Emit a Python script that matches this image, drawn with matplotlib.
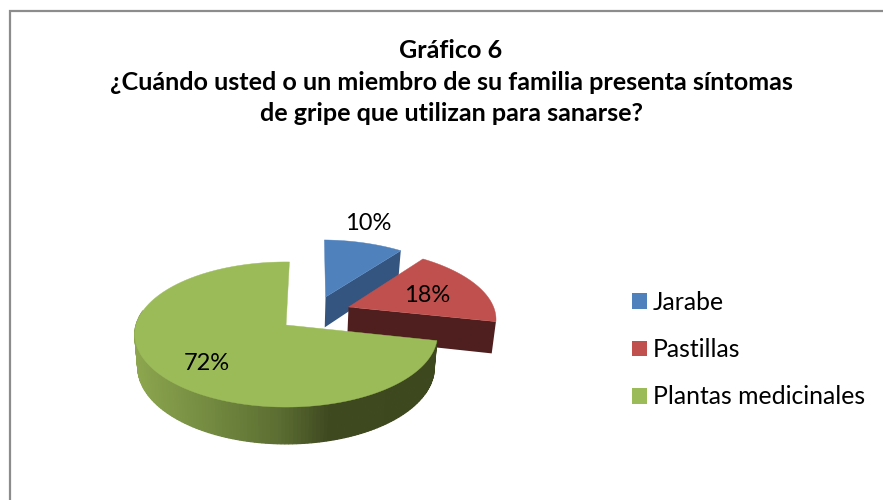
import matplotlib.pyplot as plt
import numpy as np
from matplotlib.patches import Patch

title = "Gráfico 6\n¿Cuándo usted o un miembro de su familia presenta síntomas\nde gripe que utilizan para sanarse?"
categories = ["Jarabe", "Pastillas", "Plantas medicinales"]
values = [10, 18, 72]
top_colors = ["#4F81BD", "#C0504D", "#9BBB59"]
wall_colors = ["#34557F", "#4F1E1E", "#3F4A1E"]

plt.rcParams["font.family"] = ["Lato", "DejaVu Sans"]

# fake perspective, everything in pixels of the 883x500 picture
CX, CY = 285, 325
RX, RY = 150, 71.3
K = 0.131
HEIGHT = 32
START = 1.5  # first slice angle, degrees clockwise from 12 o'clock
explode = [(0.285, 0.414), (0.438, 0.261), (0.007, 0.0)]
label_pos = [(368, 223), (427, 296), (207, 363)]


def project(u, v, bottom=False):
    s = 1 / (1 + K * v)
    x = CX + RX * u * s
    y = CY - RY * v * s
    if bottom:
        x = CX + (x - CX) * 0.98
        y = y + HEIGHT * s
    return x, y


def green_wall_color(x):
    xs = [136, 200, 280, 330, 440]
    r = np.interp(x, xs, [140, 118, 92, 63, 62])
    g = np.interp(x, xs, [165, 142, 110, 73, 72])
    b = np.interp(x, xs, [78, 66, 50, 32, 30])
    return (r / 255, g / 255, b / 255)


fig = plt.figure(figsize=(8.83, 5), dpi=100)
ax = fig.add_axes([0, 0, 1, 1])
ax.set_xlim(0, 883)
ax.set_ylim(500, 0)
ax.axis("off")

# frame, only top and left are inside the picture
ax.plot([10, 10, 883], [500, 11, 11], color="#8C8C8C", lw=1.6, solid_joinstyle="miter")

ax.text(451, 82, title, ha="center", va="center", fontsize=18.1, fontweight="bold",
        color="black", linespacing=1.45)

edges = START + np.cumsum([0] + values) * 3.6
for i in range(3):
    a0, a1 = np.radians(edges[i]), np.radians(edges[i + 1])
    t = np.linspace(a0, a1, 200)
    u = explode[i][0] + np.sin(t)
    v = explode[i][1] + np.cos(t)
    x_top, y_top = project(u, v)
    x_bot, y_bot = project(u, v, bottom=True)
    ax_x, ax_y = project(*explode[i])
    bx_x, bx_y = project(*explode[i], bottom=True)

    if i < 2:
        # cut face on the right side of the slice
        ax.fill([ax_x, x_top[-1], x_bot[-1], bx_x], [ax_y, y_top[-1], y_bot[-1], bx_y],
                color=wall_colors[i], lw=0)
    else:
        # outer wall, small quads for the shading, the back part is hidden
        for j in range(len(t) - 1):
            if np.cos(t[j]) > 0.2:
                continue
            ax.fill([x_top[j], x_top[j + 1], x_bot[j + 1], x_bot[j]],
                    [y_top[j], y_top[j + 1], y_bot[j + 1], y_bot[j]],
                    color=green_wall_color(x_top[j]), lw=0.9)

    ax.fill(np.r_[ax_x, x_top], np.r_[ax_y, y_top], color=top_colors[i], lw=0.3)

for v_, pos in zip(values, label_pos):
    ax.text(pos[0], pos[1], f"{v_}%", ha="center", va="center", fontsize=17, color="black")

handles = [Patch(facecolor=c, edgecolor="none") for c in top_colors]
ax.legend(handles, categories, loc="upper left", bbox_to_anchor=(632 / 883, 1 - 291 / 500),
          frameon=False, fontsize=17.8, handlelength=0.61, handleheight=0.61,
          handletextpad=0.24, labelspacing=0.98, borderpad=0, borderaxespad=0)

plt.savefig("out.png", dpi=100)
